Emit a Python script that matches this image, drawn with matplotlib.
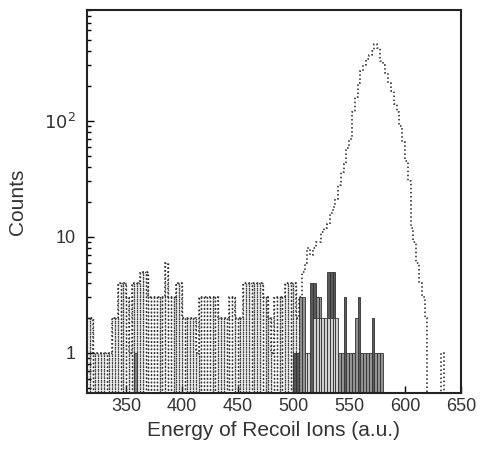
import matplotlib
matplotlib.use('Agg')
import matplotlib.pyplot as plt
from matplotlib.ticker import FixedLocator, FixedFormatter, LogLocator, NullFormatter
import numpy as np

plt.rcParams['font.family'] = ['Liberation Sans', 'DejaVu Sans']

BIN = 2.5
X0, X1 = 315.0, 650.0

# all events, 2.5-unit bins starting at 315
counts_all = [
    2, 2, 1, 1, 1, 1, 1, 1, 1, 2, 2, 4, 4, 4, 3, 1, 4, 4, 4, 5,   # 315-365
    5, 5, 3, 3, 3, 3, 3, 3, 6, 3, 3, 3, 4, 4, 2, 2, 2, 2, 2, 1,   # 365-415
    3, 3, 3, 3, 3, 3, 3, 2, 2, 2, 2, 3, 3, 2, 2, 2, 4, 4, 4, 4,   # 415-465
    4, 4, 4, 3, 3, 2, 1, 3, 3, 3, 3, 4, 4, 4, 4, 2, 3, 5, 6, 8,   # 465-515
    7, 8, 9, 9, 11, 12, 13, 16, 18, 21, 28, 36, 42, 58, 70, 120, 160, 210, 270, 300,  # 515-565
    340, 370, 400, 460, 420, 330, 300, 260, 210, 180, 140, 120, 90, 65, 45, 30, 12, 9, 6, 4,  # 565-615
    3, 2, 0, 0, 0, 0, 0, 1, 0, 0, 0, 0, 0, 0,                     # 615-650
]
NOISE_END = 505.0  # below this the spectrum is drawn as dotted bars

# gated spectra (bin left edge, counts)
dark_bins = [500, 502.5, 515, 517.5, 530, 532.5, 535, 545, 557.5, 570]
dark_counts = [1, 1, 4, 4, 5, 5, 5, 3, 3, 2]
mid_bins = [357.5, 505, 507.5, 520, 522.5, 525, 527.5, 537.5, 540, 542.5, 547.5,
            550, 552.5, 555, 560, 562.5, 565, 567.5, 572.5, 575, 577.5]
mid_counts = [1, 3, 3, 3, 3, 1, 1, 1, 1, 1, 1, 1, 1, 2, 1, 1, 1, 1, 1, 1, 1]
light_bins = [510, 512.5, 517.5, 520, 522.5, 525, 527.5, 530, 532.5, 535, 537.5]
light_counts = [1, 1, 2, 2, 2, 2, 2, 2, 2, 2, 2]

xticks = [350, 400, 450, 500, 550, 600, 650]
yticks = [1, 10, 100]
ytick_labels = ['1', '10', '$10^2$']

fig = plt.figure(figsize=(4.81, 4.55), dpi=100)
ax = fig.add_axes([0.181, 0.136, 0.777, 0.842])
ax.set_yscale('log')

base = 0.1
for bins, cnts, col in [(dark_bins, dark_counts, '#5a5a5a'),
                        (mid_bins, mid_counts, '#929292'),
                        (light_bins, light_counts, '#d0d0d0')]:
    ax.bar(bins, np.array(cnts) - base, bottom=base, width=BIN, align='edge',
           color=col, edgecolor='#333333', linewidth=0.6, zorder=2)

counts = np.array(counts_all, float)
edges = X0 + BIN * np.arange(len(counts) + 1)
left = edges[:-1]
noise = (left < NOISE_END) & (counts > 0)
ax.bar(left[noise], counts[noise] - base, bottom=base, width=BIN, align='edge',
       fill=False, edgecolor='#333333', linestyle=':', linewidth=1.0, zorder=3)
ax.stairs(np.where(counts > 0, counts, base), edges, baseline=base,
          color='#222222', linestyle=':', linewidth=1.1, zorder=3)

ax.set_xlim(X0, X1)
ax.set_ylim(0.45, 900)
ax.xaxis.set_major_locator(FixedLocator(xticks))
ax.yaxis.set_major_locator(FixedLocator(yticks))
ax.yaxis.set_major_formatter(FixedFormatter(ytick_labels))
ax.yaxis.set_minor_locator(LogLocator(base=10, subs=np.arange(2, 10)))
ax.yaxis.set_minor_formatter(NullFormatter())
ax.tick_params(which='both', direction='in', labelsize=13, width=1,
               labelcolor='#333333')
ax.tick_params(which='major', length=5)
ax.tick_params(which='minor', length=3)
ax.tick_params(axis='y', pad=8)
for s in ax.spines.values():
    s.set_linewidth(1.5)
    s.set_color('#222222')

ax.set_xlabel('Energy of Recoil Ions (a.u.)', fontsize=15, color='#333333')
ax.set_ylabel('Counts', fontsize=15, color='#333333', labelpad=12)

fig.savefig('out.png', dpi=100)
